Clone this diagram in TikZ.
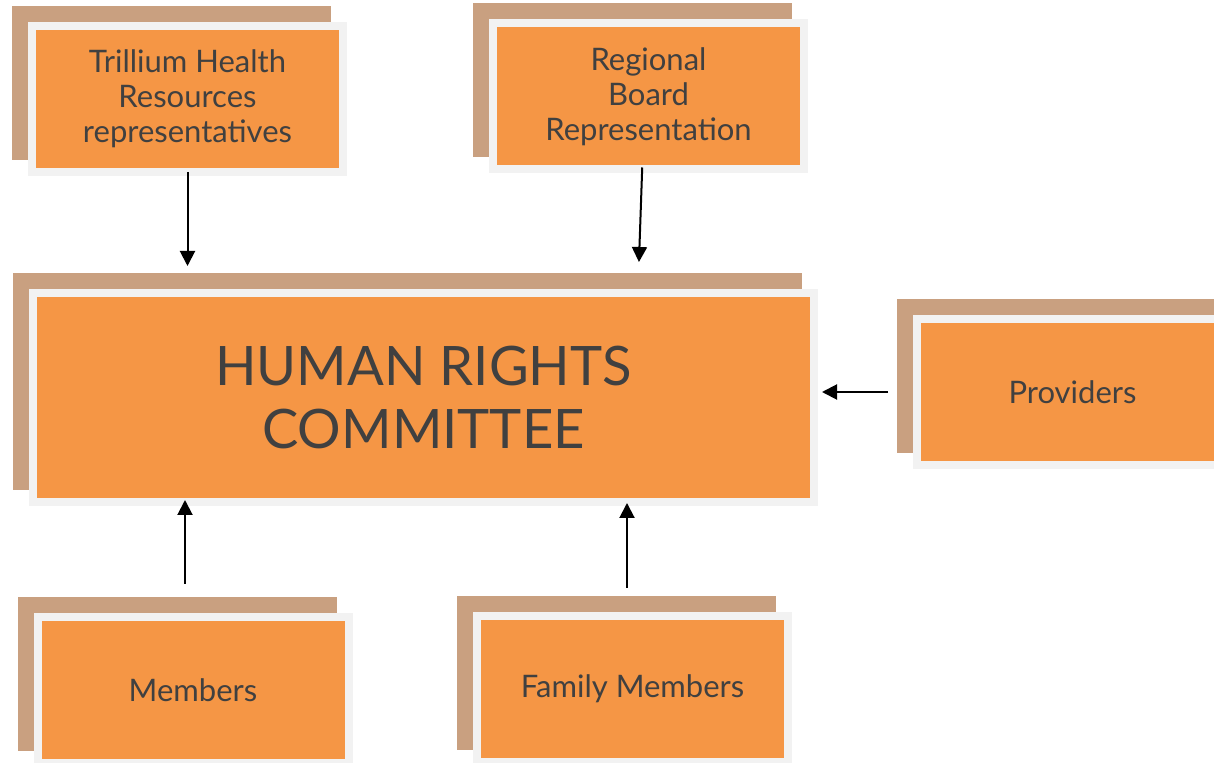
\documentclass[tikz,border=0pt]{standalone}
\usepackage{fontspec}
\setmainfont{Lato}
\usetikzlibrary{arrows.meta,shadows}
\definecolor{boxorange}{HTML}{F59645}
\definecolor{boxtan}{HTML}{C9A080}
\definecolor{boxrim}{HTML}{F2F2F2}
\definecolor{boxtext}{HTML}{404040}

\begin{document}
\begin{tikzpicture}[x=0.5pt,y=-0.5pt,
    card/.style={rectangle, fill=boxorange, draw=boxrim, line width=4pt, inner sep=0pt,
      text=boxtext, align=center, minimum width=155.5pt, minimum height=73pt,
      font=\fontsize{15.5}{17.5}\selectfont,
      general shadow={fill=boxtan, draw=boxtan, line width=4pt, shadow xshift=-8pt, shadow yshift=8pt}},
    feed/.style={-{Triangle[length=7.5pt,width=7.5pt]}, line width=1pt}]
    \useasboundingbox[fill=white] (0,0) rectangle (1214,763);

    % boxes
    \node[card] (trillium) at (187.5,99) {Trillium Health\\Resources\\representatives};
    \node[card] (regional) at (648.5,96.5) {Regional\\Board\\Representation};
    \node[card, minimum width=390.5pt, minimum height=104.5pt,
          font=\fontsize{27.2}{31.5}\selectfont] (hrc) at (423.5,397.5) {HUMAN RIGHTS\\COMMITTEE};
    \node[card] (providers) at (1072.5,392) {Providers};
    \node[card] (members) at (193,690) {Members};
    \node[card] (family) at (632.5,689) {Family Members};

    % arrows into the committee
    \draw[feed, shorten <=-2pt, shorten >=11.5pt] (trillium.south) -- (trillium.south |- hrc.north);
    \draw[feed, shorten <=-3pt, shorten >=13.5pt] ([xshift=-3.25pt]regional.south) -- ([xshift=-5.25pt]regional.south |- hrc.north);
    \draw[feed, shorten <=12.5pt, shorten >=2pt] (providers.west) -- (providers.west -| hrc.east);
    \draw[feed, shorten <=14.5pt, shorten >=-3pt] ([xshift=-4pt]members.north) -- ([xshift=-4pt]members.north |- hrc.south);
    \draw[feed, shorten <=12pt, shorten >=-1.5pt] ([xshift=-2.75pt]family.north) -- ([xshift=-2.75pt]family.north |- hrc.south);
\end{tikzpicture}
\end{document}
